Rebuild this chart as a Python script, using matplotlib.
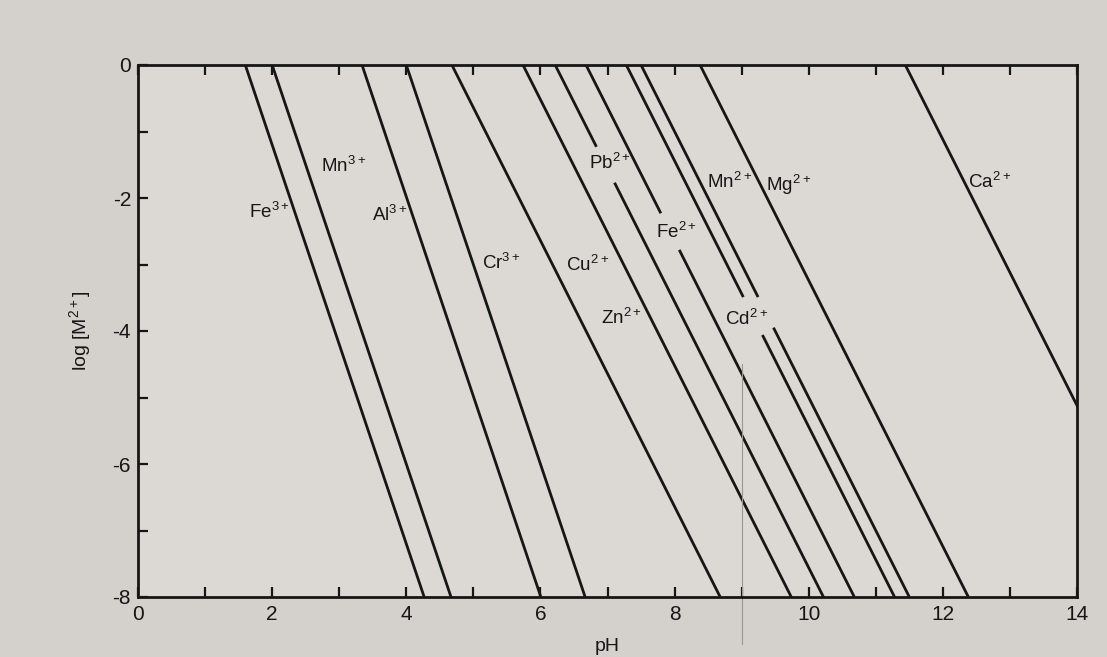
import numpy as np
import matplotlib.pyplot as plt

# metal hydroxide solubility lines: log[M] = -n * (pH - pH0)
ions = ['Fe$^{3+}$', 'Mn$^{3+}$', 'Al$^{3+}$', 'Cr$^{3+}$', 'Cu$^{2+}$', 'Zn$^{2+}$',
        'Pb$^{2+}$', 'Fe$^{2+}$', 'Cd$^{2+}$', 'Mn$^{2+}$', 'Mg$^{2+}$', 'Ca$^{2+}$']
start_ph = [1.60, 2.00, 3.34, 4.00, 4.68, 5.74, 6.22, 6.68, 7.28, 7.50, 8.38, 11.44]
charge = [3, 3, 3, 3, 2, 2, 2, 2, 2, 2, 2, 2]

# where a line is interrupted by a label (log values, top / bottom)
gaps = [None, None, None, None, None, None,
        (-1.23, -1.77), (-2.23, -2.78), (-3.49, -4.06), (-3.49, -3.95), None, None]

# label centres (pH, log)
label_ph = [1.96, 3.07, 3.76, 5.42, 6.70, 7.21, 7.04, 8.03, 9.07, 8.82, 9.70, 12.69]
label_log = [-2.21, -1.52, -2.26, -2.98, -3.00, -3.80, -1.47, -2.51, -3.82, -1.76, -1.80, -1.76]

x_ticks = np.arange(0, 15, 1)
y_ticks = np.arange(-8, 1, 1)

plt.rcParams['font.family'] = ['Liberation Sans', 'DejaVu Sans']
plt.rcParams['mathtext.default'] = 'regular'

fig = plt.figure(figsize=(11.07, 6.57), dpi=100, facecolor='#d4d0cc')
ax = fig.add_axes([138 / 1107, 60 / 657, 939 / 1107, 532 / 657])
ax.set_facecolor('#dcd9d5')

ink = '#161616'
for name, p0, n, gap in zip(ions, start_ph, charge, gaps):
    if gap is None:
        pieces = [(0, -8)]
    else:
        pieces = [(0, gap[0]), (gap[1], -8)]
    for top, bot in pieces:
        logs = np.array([top, bot])
        ax.plot(p0 - logs / n, logs, color=ink, lw=2.0, solid_capstyle='butt')

for name, x, y in zip(ions, label_ph, label_log):
    ax.text(x, y, name, fontsize=13.5, color=ink, ha='center', va='center')

# faint crease in the printed page near pH 9
ax.plot([9, 9], [-4.5, -8.7], color='#9a9692', lw=0.8, clip_on=False)

ax.set_xlim(0, 14)
ax.set_ylim(-8, 0)
ax.set_xticks(x_ticks)
ax.set_xticklabels([str(t) if t % 2 == 0 else '' for t in x_ticks])
ax.set_yticks(y_ticks)
ax.set_yticklabels([str(t) if t % 2 == 0 else '' for t in y_ticks])
ax.tick_params(direction='in', length=7, width=1.6, labelsize=15, colors=ink,
               top=True, bottom=True, left=True, right=False, pad=5)
ax.tick_params(axis='x', pad=6)
for s in ax.spines.values():
    s.set_linewidth(2.0)
    s.set_color(ink)

ax.set_xlabel('pH', fontsize=14, color=ink, labelpad=10)
ax.set_ylabel('log [M$^{2+}$]', fontsize=14, color=ink, labelpad=14)

fig.savefig('out.png', dpi=100, facecolor=fig.get_facecolor())
